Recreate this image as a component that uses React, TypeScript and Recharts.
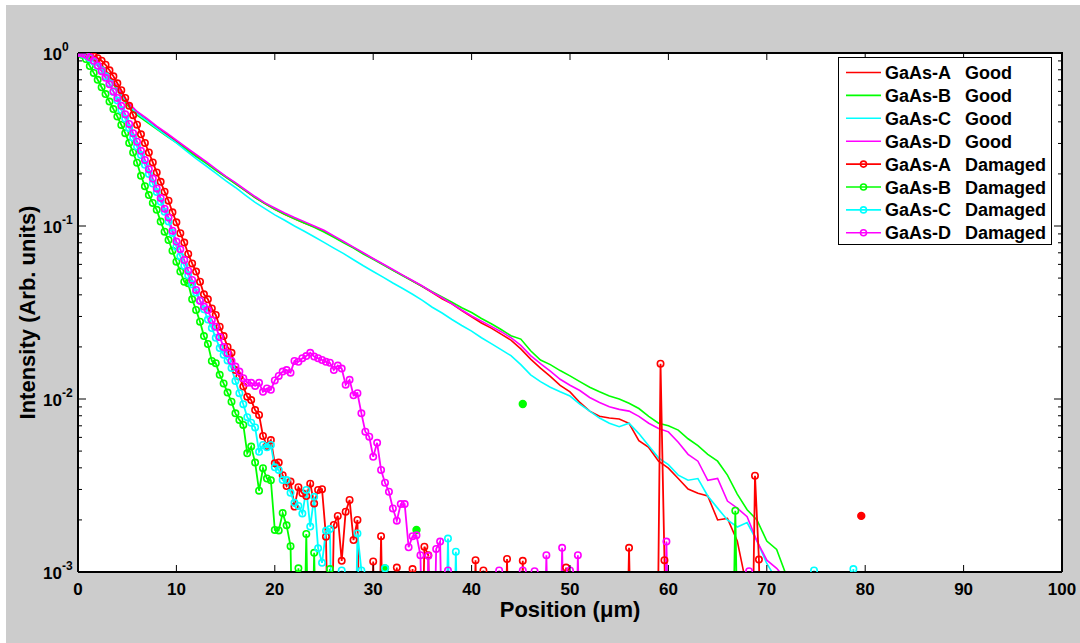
import React from 'react';
import { LineChart, Line, XAxis, YAxis, Legend, ReferenceLine } from 'recharts';

const FONT = '"Liberation Sans", Arial, Helvetica, sans-serif';

// ---- axes / labels ----
const xTicks = [0, 10, 20, 30, 40, 50, 60, 70, 80, 90, 100];
const yTicks = [
  0.001, 0.002, 0.003, 0.004, 0.005, 0.006, 0.007, 0.008, 0.009,
  0.01, 0.02, 0.03, 0.04, 0.05, 0.06, 0.07, 0.08, 0.09,
  0.1, 0.2, 0.3, 0.4, 0.5, 0.6, 0.7, 0.8, 0.9, 1,
];
const yMajor = [0.001, 0.01, 0.1, 1];
const yMajorExp = ['-3', '-2', '-1', '0'];
const xLabel = 'Position (\u03bcm)';
const yLabel = 'Intensity (Arb. units)';

// ---- series meta ----
const sampleNames = ['GaAs-A', 'GaAs-B', 'GaAs-C', 'GaAs-D'];
const sampleColors = ['#FF0000', '#00FF00', '#00FFFF', '#FF00FF'];
const conditionNames = ['Good', 'Damaged'];

// ---- "Good" curves (position in um) ----
const goodX = [
  0, 1, 2, 3, 4, 5, 6, 7, 8, 9, 10, 11, 12, 13, 14, 15, 16, 17, 18, 19,
  20, 21, 22, 23, 24, 25, 26, 27, 28, 29, 30, 31, 32, 33, 34, 35, 36, 37, 38, 39,
  40, 41, 42, 43, 44, 45, 46, 47, 48, 49, 50, 51, 52, 53, 54, 55, 56, 57, 58, 59,
  60, 61, 62, 63, 64, 65, 66, 67, 68, 69, 70, 71, 72,
];
const goodA = [
  1, 0.966, 0.881, 0.759, 0.631, 0.519, 0.452, 0.412, 0.372, 0.339,
  0.309, 0.282, 0.256, 0.233, 0.211, 0.193, 0.176, 0.16, 0.146, 0.135,
  0.125, 0.117, 0.11, 0.104, 0.0989, 0.0933, 0.0867, 0.0807, 0.075, 0.0695,
  0.0646, 0.06, 0.0556, 0.0518, 0.0481, 0.0447, 0.0412, 0.038, 0.0355, 0.0324,
  0.0299, 0.0275, 0.0257, 0.0237, 0.0219, 0.0195, 0.017, 0.0151, 0.0135, 0.012,
  0.011, 0.00955, 0.00851, 0.00794, 0.00776, 0.00767, 0.00724, 0.00575, 0.00525, 0.00437,
  0.00398, 0.00347, 0.00302, 0.00285, 0.00275, 0.002, 0.00204, 0.00151, 0.0008, null,
  null, null, null,
];
const goodB = [
  1, 0.955, 0.861, 0.733, 0.61, 0.501, 0.437, 0.398, 0.363, 0.331,
  0.303, 0.277, 0.252, 0.231, 0.21, 0.192, 0.175, 0.16, 0.146, 0.135,
  0.125, 0.117, 0.11, 0.104, 0.0982, 0.0923, 0.0861, 0.08, 0.0745, 0.0689,
  0.0641, 0.0597, 0.0555, 0.0516, 0.0481, 0.0447, 0.0417, 0.0389, 0.0363, 0.0337,
  0.0316, 0.0292, 0.0272, 0.0252, 0.0232, 0.0222, 0.019, 0.0168, 0.0158, 0.0146,
  0.0136, 0.0126, 0.0117, 0.011, 0.0104, 0.01, 0.00944, 0.00881, 0.00794, 0.00724,
  0.007, 0.00661, 0.00589, 0.00537, 0.00479, 0.00437, 0.00363, 0.00282, 0.00229, 0.002,
  0.00151, 0.00135, 0.00095,
];
const goodC = [
  1, 0.959, 0.871, 0.741, 0.624, 0.513, 0.447, 0.407, 0.367, 0.333,
  0.302, 0.272, 0.245, 0.223, 0.202, 0.183, 0.167, 0.151, 0.137, 0.126,
  0.116, 0.108, 0.1, 0.0933, 0.0867, 0.0804, 0.0745, 0.0692, 0.0638, 0.0589,
  0.0546, 0.0506, 0.0468, 0.0435, 0.0403, 0.0372, 0.0339, 0.0314, 0.0288, 0.0266,
  0.0247, 0.0226, 0.0209, 0.0193, 0.0178, 0.0158, 0.0138, 0.0126, 0.0117, 0.011,
  0.0104, 0.00933, 0.00851, 0.00776, 0.00724, 0.00692, 0.00724, 0.00631, 0.00537, 0.00457,
  0.00417, 0.00363, 0.00339, 0.00347, 0.00275, 0.00234, 0.002, 0.00182, 0.00193, 0.00151,
  0.00112, 0.0009, null,
];
const goodD = [
  1, 0.973, 0.891, 0.767, 0.638, 0.525, 0.459, 0.419, 0.378, 0.345,
  0.314, 0.285, 0.259, 0.236, 0.214, 0.194, 0.178, 0.162, 0.148, 0.136,
  0.127, 0.119, 0.112, 0.106, 0.1, 0.0944, 0.0877, 0.0813, 0.0755, 0.07,
  0.0649, 0.0603, 0.056, 0.052, 0.0484, 0.045, 0.0414, 0.0385, 0.0355, 0.0327,
  0.0302, 0.0282, 0.0263, 0.0245, 0.0226, 0.0204, 0.0178, 0.016, 0.0145, 0.013,
  0.012, 0.0112, 0.0102, 0.00955, 0.00902, 0.00871, 0.00851, 0.00794, 0.00724, 0.00676,
  0.00646, 0.00562, 0.00479, 0.00437, 0.00339, 0.00347, 0.00257, 0.00234, 0.00209, 0.00151,
  0.00117, 0.00105, 0.0009,
];

// ---- "Damaged" curves: dense part (0.4 um steps) ----
const dmgX = [
  0, 0.4, 0.8, 1.2, 1.6, 2, 2.4, 2.8, 3.2, 3.6,
  4, 4.4, 4.8, 5.2, 5.6, 6, 6.4, 6.8, 7.2, 7.6,
  8, 8.4, 8.8, 9.2, 9.6, 10, 10.4, 10.8, 11.2, 11.6,
  12, 12.4, 12.8, 13.2, 13.6, 14, 14.4, 14.8, 15.2, 15.6,
  16, 16.4, 16.8, 17.2, 17.6, 18, 18.4, 18.8, 19.2, 19.6,
  20, 20.4, 20.8, 21.2, 21.6, 22, 22.4, 22.8, 23.2, 23.6,
  24, 24.4, 24.8, 25.2, 25.6, 26, 26.4, 26.8, 27.2, 27.6,
  28, 28.4, 28.8, 29.2, 29.6, 30, 30.4, 30.8, 31.2, 31.6,
  32, 32.4, 32.8, 33.2, 33.6, 34, 34.4, 34.8, 35.2, 35.6,
  36, 36.4, 36.8, 37.2,
];
const dmgA = [
  1, 0.995, 0.986, 0.973, 0.955, 0.933, 0.902, 0.855, 0.794, 0.733,
  0.668, 0.61, 0.55, 0.495, 0.437, 0.385, 0.339, 0.302, 0.266, 0.233,
  0.204, 0.18, 0.158, 0.14, 0.12, 0.105, 0.0908, 0.0802, 0.0689, 0.0608,
  0.0545, 0.0476, 0.0403, 0.0377, 0.0334, 0.0306, 0.0262, 0.0231, 0.02, 0.0185,
  0.0147, 0.0135, 0.0118, 0.0103, 0.00986, 0.00863, 0.00809, 0.00611, 0.00535, 0.00579,
  0.00425, 0.00429, 0.00363, 0.00314, 0.00333, 0.00239, 0.00309, 0.00285, 0.00275, 0.00324,
  0.00249, 0.00298, 0.00301, 0.0016, 0.0001, 0.00187, 0.00211, 0.00116, 0.00223, 0.00261,
  0.00153, 0.002, 0.0001,
];
const dmgB = [
  1, 0.977, 0.923, 0.841, 0.767, 0.7, 0.634, 0.579, 0.524, 0.474,
  0.429, 0.384, 0.344, 0.302, 0.266, 0.232, 0.195, 0.17, 0.151, 0.136,
  0.124, 0.106, 0.0927, 0.083, 0.0719, 0.0622, 0.0545, 0.0476, 0.0467, 0.0377,
  0.0327, 0.028, 0.0231, 0.0208, 0.0166, 0.0161, 0.0138, 0.0123, 0.0109, 0.00964,
  0.00826, 0.00757, 0.00708, 0.00485, 0.00531, 0.00429, 0.00295, 0.00398, 0.00347, 0.00339,
  0.00175, 0.00174, 0.00219, 0.00186, 0.00141, 0.0001, 0.00105, 0.0001, 0.00166, 0.0001,
  0.00129, 0.0001, 0.0001, 0.0001, 0.00104, 0.0001,
];
const dmgC = [
  1, 0.989, 0.966, 0.933, 0.891, 0.841, 0.794, 0.733, 0.668, 0.596,
  0.531, 0.468, 0.417, 0.367, 0.324, 0.288, 0.257, 0.226, 0.2, 0.176,
  0.157, 0.138, 0.121, 0.106, 0.0912, 0.0759, 0.0668, 0.0589, 0.0519, 0.046,
  0.0412, 0.037, 0.033, 0.0288, 0.0257, 0.0226, 0.0197, 0.018, 0.0167, 0.0151,
  0.0127, 0.0108, 0.00933, 0.00785, 0.00729, 0.00685, 0.00495, 0.00542, 0.00526, 0.00542,
  0.00403, 0.00389, 0.0034, 0.0034, 0.00287, 0.00251, 0.00241, 0.00218, 0.00298, 0.00183,
  0.00272, 0.00137, 0.00113, 0.00173, 0.00177, 0.0001,
];
const dmgD = [
  1, 0.995, 0.977, 0.944, 0.902, 0.847, 0.785, 0.719, 0.659, 0.6,
  0.55, 0.495, 0.442, 0.389, 0.344, 0.307, 0.272, 0.241, 0.213, 0.188,
  0.165, 0.145, 0.126, 0.112, 0.094, 0.0813, 0.0733, 0.0635, 0.0552, 0.0488,
  0.0427, 0.037, 0.0342, 0.0327, 0.0286, 0.0262, 0.0228, 0.02, 0.0184, 0.0166,
  0.0154, 0.0144, 0.0132, 0.0124, 0.0124, 0.0119, 0.0124, 0.011, 0.0115, 0.0113,
  0.0128, 0.0136, 0.0144, 0.0147, 0.0142, 0.0166, 0.0164, 0.0172, 0.0177, 0.0185,
  0.0176, 0.0172, 0.0168, 0.0164, 0.0162, 0.0147, 0.0156, 0.015, 0.0121, 0.0129,
  0.0105, 0.0108, 0.00826, 0.00647, 0.00605, 0.00463, 0.00558, 0.00389, 0.00328, 0.00291,
  0.00233, 0.00198, 0.00247, 0.00247, 0.00139, 0.00161, 0.00163, 0.00125, 0.0001, 0.00124,
  0.0001, 0.00136, 0.0015, 0.0001,
];

// ---- "Damaged" curves: sparse tails (null = no data point) ----
const tailAX = [29.6, 30, 30.4, 30.8, 31.2, 32, 32.4, 32.8, 33.6, 34, 34.4, 34.8, 35.2, 35.6, 36, 40, 40.4, 40.8, 41.2, 41.6, 43.2, 43.6, 44, 44.8, 45.2, 45.6, 49.2, 49.6, 50, 55.6, 56, 56.4, 58.8, 59.2, 59.6, 60, 68.4, 68.8, 69.2, 69.6, 79.2, 79.6, 80];
const tailAV = [0.0001, 0.00115, 0.0001, 0.00161, 0.0001, 0.0001, 0.00106, 0.0001, 0.0001, 0.00104, 0.0001, 0.0001, 0.0014, 0.00125, 0.0001, 0.0001, 0.00117, 0.0001, 0.00102, 0.0001, 0.0001, 0.00119, 0.0001, 0.0001, 0.00116, 0.0001, 0.0001, 0.00106, 0.0001, 0.0001, 0.00138, 0.0001, 0.0001, 0.016, 0.00117, 0.0001, 0.0001, 0.0036, 0.00118, 0.0001, null, 0.00211, null];
const tailBX = [30.8, 31.2, 31.6, 34.4, 34.8, 45.2, 45.6, 66.4, 66.8, 67.2];
const tailBV = [null, 0.00105, null, 0.00175, null, 0.00936, null, 0.0001, 0.00226, 0.0001];
const tailCX = [26.8, 27.2, 28, 28.4, 28.8, 29.2, 30.8, 31.2, 31.6, 37.2, 37.6, 38, 38.4, 38.8, 74.4, 74.8, 75.2, 78.4, 78.8, 79.2];
const tailCV = [0.00102, 0.0001, 0.0001, 0.00167, 0.00102, 0.0001, 0.0001, 0.00105, 0.0001, 0.0001, 0.00156, 0.0001, 0.00131, 0.0001, 0.0001, 0.00102, 0.0001, 0.0001, 0.00104, 0.0001];
const tailDX = [37.6, 38, 42.4, 42.8, 43.2, 44.8, 45.2, 45.6, 46, 46.4, 46.8, 47.2, 47.6, 48, 48.8, 49.2, 49.6, 50, 50.4, 50.8, 51.2, 59.4, 59.8, 60.2, 67.8, 68.2, 68.6];
const tailDV = [0.00102, 0.0001, 0.0001, 0.00102, 0.0001, 0.0001, 0.00102, 0.0001, 0.0001, 0.00101, 0.0001, 0.0001, 0.00125, 0.0001, 0.0001, 0.00138, 0.0001, 0.00102, 0.0001, 0.00125, 0.0001, 0.0001, 0.0015, 0.0001, 0.0001, 0.00101, 0.0001];

type Pt = { x: number; v: number | null };
const toPoints = (xs: number[], vs: (number | null)[]): Pt[] => vs.map((v, i) => ({ x: xs[i], v }));

const goodSeries: Pt[][] = [goodA, goodB, goodC, goodD].map((vs) => toPoints(goodX, vs));
const dmgSeries: Pt[][] = [
  [...toPoints(dmgX, dmgA), ...toPoints(tailAX, tailAV)],
  [...toPoints(dmgX, dmgB), ...toPoints(tailBX, tailBV)],
  [...toPoints(dmgX, dmgC), ...toPoints(tailCX, tailCV)],
  [...toPoints(dmgX, dmgD), ...toPoints(tailDX, tailDV)],
];

const makeDot = (data: Pt[], color: string) => (props: any) => {
  const { cx, cy, index } = props;
  const p = data[index];
  if (!p || p.v == null || p.v < 0.001 || cx == null || cy == null || isNaN(cy)) {
    return <g key={`e${index}`} />;
  }
  const prev = data[index - 1];
  const next = data[index + 1];
  const isolated = (!prev || prev.v == null) && (!next || next.v == null);
  return (
    <circle
      key={`d${index}`}
      cx={cx}
      cy={cy}
      r={isolated ? 3.4 : 3.2}
      fill={isolated ? color : 'none'}
      stroke={color}
      strokeWidth={1.6}
    />
  );
};

// ---- tick renderers ----
const BottomTick = (props: any) => {
  const { x, y, payload } = props;
  return (
    <g>
      <line x1={x} y1={y} x2={x} y2={y - 7} stroke="#000" strokeWidth={1} />
      <text x={x} y={y + 23} textAnchor="middle" fontFamily={FONT} fontWeight="bold" fontSize={17} fill="#000">
        {payload.value}
      </text>
    </g>
  );
};
const LeftTick = (props: any) => {
  const { x, y, payload } = props;
  const k = yMajor.indexOf(payload.value);
  const len = k >= 0 ? 8 : 4;
  return (
    <g>
      <line x1={x} y1={y} x2={x + len} y2={y} stroke="#000" strokeWidth={1} />
      {k >= 0 && (
        <text x={x - 16} y={y + 7} textAnchor="end" fontFamily={FONT} fontWeight="bold" fontSize={17} fill="#000">
          10
        </text>
      )}
      {k >= 0 && (
        <text x={x - 16} y={y - 2} textAnchor="start" fontFamily={FONT} fontWeight="bold" fontSize={12} fill="#000">
          {yMajorExp[k]}
        </text>
      )}
    </g>
  );
};

// inward ticks on the top and right edges of the box, placed through the axis scales
const topTickShape = (props: any) => {
  const { x1, y1, y2 } = props;
  const top = Math.min(y1, y2);
  return <line x1={x1} y1={top} x2={x1} y2={top + 7} stroke="#000" strokeWidth={1} />;
};
const makeRightTickShape = (len: number) => (props: any) => {
  const { x1, x2, y1 } = props;
  const right = Math.max(x1, x2);
  return <line x1={right} y1={y1} x2={right - len} y2={y1} stroke="#000" strokeWidth={1} />;
};

const legendItems = conditionNames.flatMap((cond, ci) =>
  sampleNames.map((name, si) => ({ name, cond, color: sampleColors[si], marker: ci === 1 }))
);

const LegendBox = () => (
  <svg width={214} height={188} style={{ display: 'block' }}>
    <rect x={0.5} y={0.5} width={213} height={187} fill="#fff" stroke="#000" strokeWidth={1} />
    {legendItems.map((it, i) => {
      const cy = 15.5 + i * 22.9;
      return (
        <g key={i}>
          <line x1={8} x2={43} y1={cy} y2={cy} stroke={it.color} strokeWidth={1.6} />
          {it.marker && <circle cx={25.5} cy={cy} r={3} fill="none" stroke={it.color} strokeWidth={1.6} />}
          <text x={47} y={cy + 6.5} fontFamily={FONT} fontWeight="bold" fontSize={18} fill="#000">
            {it.name}
          </text>
          <text x={127} y={cy + 6.5} fontFamily={FONT} fontWeight="bold" fontSize={18} fill="#000">
            {it.cond}
          </text>
        </g>
      );
    })}
  </svg>
);

const XLabel = (props: any) => {
  const vb = props.viewBox || { x: 78, y: 572, width: 984, height: 71 };
  return (
    <text x={vb.x + vb.width / 2} y={vb.y + 45} textAnchor="middle" fontFamily={FONT} fontWeight="bold" fontSize={22} fill="#000">
      {xLabel}
    </text>
  );
};
const YLabel = (props: any) => {
  const vb = props.viewBox || { x: 0, y: 53, width: 78, height: 519 };
  const cx = 35;
  const cy = vb.y + vb.height / 2;
  return (
    <text
      x={cx}
      y={cy}
      transform={`rotate(-90, ${cx}, ${cy})`}
      textAnchor="middle"
      fontFamily={FONT}
      fontWeight="bold"
      fontSize={22}
      fill="#000"
    >
      {yLabel}
    </text>
  );
};

// chart frame geometry (page pixels)
const CHART_W = 1080;
const CHART_H = 643;
const MARGIN = { top: 53, right: 18, left: 0, bottom: 0 };
const Y_AXIS_W = 78;
const X_AXIS_H = 71;

export default function App() {
  const plotLeft = MARGIN.left + Y_AXIS_W;
  const plotTop = MARGIN.top;
  const plotW = CHART_W - plotLeft - MARGIN.right;
  const plotH = CHART_H - plotTop - MARGIN.bottom - X_AXIS_H;
  return (
    <div style={{ position: 'absolute', left: 0, top: 0, width: CHART_W, height: CHART_H, background: '#fff', overflow: 'hidden' }}>
      <div style={{ position: 'absolute', left: 6, top: 5, right: 0, bottom: 0, background: '#cccccc' }} />
      {/* white axes box with top / right frame edges */}
      <div
        style={{
          position: 'absolute',
          left: plotLeft,
          top: plotTop - 1,
          width: plotW + 1,
          height: plotH + 1,
          boxSizing: 'border-box',
          background: '#fff',
          borderTop: '2px solid #000',
          borderRight: '2px solid #000',
        }}
      />
      <div style={{ position: 'absolute', left: 0, top: 0 }}>
        <LineChart width={CHART_W} height={CHART_H} margin={MARGIN}>
          <XAxis
            xAxisId="x"
            dataKey="x"
            type="number"
            domain={[0, 100]}
            ticks={xTicks}
            interval={0}
            allowDataOverflow
            height={X_AXIS_H}
            tickSize={0}
            tickMargin={0}
            tickLine={false}
            axisLine={{ stroke: '#000', strokeWidth: 2 }}
            tick={BottomTick}
            label={XLabel}
          />
          <YAxis
            yAxisId="y"
            scale="log"
            type="number"
            domain={[0.001, 1]}
            ticks={yTicks}
            interval={0}
            allowDataOverflow
            width={Y_AXIS_W}
            tickSize={0}
            tickMargin={0}
            tickLine={false}
            axisLine={{ stroke: '#000', strokeWidth: 2 }}
            tick={LeftTick}
            label={YLabel}
          />
          {xTicks.slice(1, -1).map((v) => (
            <ReferenceLine key={`tt${v}`} xAxisId="x" yAxisId="y" x={v} stroke="#000" ifOverflow="visible" shape={topTickShape} />
          ))}
          {yTicks.map((v) => (
            <ReferenceLine
              key={`rt${v}`}
              xAxisId="x"
              yAxisId="y"
              y={v}
              stroke="#000"
              ifOverflow="visible"
              shape={makeRightTickShape(yMajor.indexOf(v) >= 0 ? 8 : 4)}
            />
          ))}
          {goodSeries.map((d, i) => (
            <Line
              key={`good${i}`}
              name={`${sampleNames[i]} ${conditionNames[0]}`}
              data={d}
              dataKey="v"
              xAxisId="x"
              yAxisId="y"
              type="linear"
              stroke={sampleColors[i]}
              strokeWidth={1.6}
              dot={false}
              activeDot={false}
              connectNulls={false}
              isAnimationActive={false}
            />
          ))}
          {dmgSeries.map((d, i) => (
            <Line
              key={`dmg${i}`}
              name={`${sampleNames[i]} ${conditionNames[1]}`}
              data={d}
              dataKey="v"
              xAxisId="x"
              yAxisId="y"
              type="linear"
              stroke={sampleColors[i]}
              strokeWidth={1.8}
              dot={makeDot(d, sampleColors[i])}
              activeDot={false}
              connectNulls={false}
              isAnimationActive={false}
            />
          ))}
          <Legend
            layout="vertical"
            align="center"
            verticalAlign="middle"
            content={LegendBox}
            wrapperStyle={{ left: 838, top: 57, width: 214, height: 188, right: 'auto', bottom: 'auto' }}
          />
        </LineChart>
      </div>
    </div>
  );
}
